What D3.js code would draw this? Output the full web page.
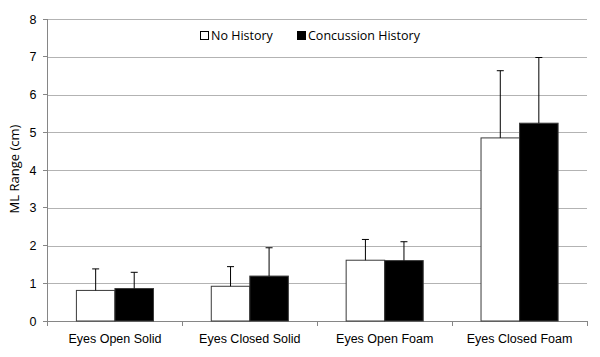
<!DOCTYPE html>
<html>
<head>
<meta charset="utf-8">
<script src="https://cdn.jsdelivr.net/npm/d3@7"></script>
<style>
  body { margin: 0; background: #fff; }
  svg { display: block; font-family: "Open Sans", sans-serif; }
  .tick text { font-size: 12.5px; fill: #000; }
</style>
</head>
<body>
<div id="chart"></div>
<script>
// data
const categories = ["Eyes Open Solid", "Eyes Closed Solid", "Eyes Open Foam", "Eyes Closed Foam"];
const seriesNames = ["No History", "Concussion History"];
const noHistory = [0.81, 0.92, 1.61, 4.85];
const noHistoryErr = [0.57, 0.52, 0.55, 1.78];
const concussion = [0.86, 1.19, 1.60, 5.24];
const concussionErr = [0.43, 0.75, 0.50, 1.74];
const yTicks = [0, 1, 2, 3, 4, 5, 6, 7, 8];

const width = 600, height = 357,
    margin = ({ top: 19, right: 13, bottom: 36, left: 47.5 });

const svg = d3.select("#chart")
    .append("svg")
    .attr("width", width)
    .attr("height", height);

const data = categories.map((c, i) => ({
    cat: c,
    vals: [
        { s: seriesNames[0], v: noHistory[i], e: noHistoryErr[i], fill: "#fff" },
        { s: seriesNames[1], v: concussion[i], e: concussionErr[i], fill: "#000" }
    ]
}));

let x = d3.scaleBand()
    .domain(categories)
    .range([margin.left, width - margin.right])
    .paddingInner(0).paddingOuter(0);

// excel gap width 150% -> bars take 2/3.5 of the band
let x1 = d3.scaleBand()
    .domain(seriesNames)
    .range([0, x.bandwidth()])
    .paddingInner(0)
    .paddingOuter(0.75);

let y = d3.scaleLinear()
    .domain([0, 8])
    .range([height - margin.bottom, margin.top]);

// gridlines + y labels
svg.append("g")
    .attr("transform", `translate(${margin.left},0)`)
    .call(d3.axisLeft(y).tickValues(yTicks).tickSize(-(width - margin.left - margin.right)).tickPadding(11).tickFormat(d3.format("d")))
    .call(g => g.select(".domain").remove())
    .call(g => g.selectAll(".tick line").attr("stroke", "#b3b3b3").attr("shape-rendering", "crispEdges"))
    .call(g => g.selectAll(".tick").filter(d => d === 0).select("line").attr("stroke", "#868686"));

// y axis line
svg.append("line")
    .attr("x1", margin.left).attr("x2", margin.left)
    .attr("y1", y(8)).attr("y2", y(0) + 5)
    .attr("stroke", "#868686")
    .attr("shape-rendering", "crispEdges");

// small ticks on the left axis
svg.append("g")
    .selectAll("line")
    .data(yTicks)
    .join("line")
    .attr("x1", margin.left - 5).attr("x2", margin.left)
    .attr("y1", d => y(d)).attr("y2", d => y(d))
    .attr("stroke", "#868686")
    .attr("shape-rendering", "crispEdges");

// x axis: category dividers and labels
svg.append("g")
    .attr("transform", `translate(0,${y(0)})`)
    .call(d3.axisBottom(x).tickSize(0).tickPadding(13))
    .call(g => g.select(".domain").remove());

svg.append("g")
    .selectAll("line")
    .data(categories)
    .join("line")
    .attr("x1", d => x(d) + x.bandwidth()).attr("x2", d => x(d) + x.bandwidth())
    .attr("y1", y(0)).attr("y2", y(0) + 5)
    .attr("stroke", "#868686")
    .attr("shape-rendering", "crispEdges");

// bars
const groups = svg.append("g")
    .selectAll("g")
    .data(data)
    .join("g")
    .attr("transform", d => `translate(${x(d.cat)},0)`);

groups.selectAll("rect")
    .data(d => d.vals)
    .join("rect")
    .attr("x", d => x1(d.s))
    .attr("y", d => y(d.v))
    .attr("width", x1.bandwidth())
    .attr("height", d => y(0) - y(d.v))
    .attr("fill", d => d.fill)
    .attr("stroke", "#3a3a3a")
    .attr("stroke-width", 1);

// error bars (upper only)
const err = groups.selectAll("g.err")
    .data(d => d.vals)
    .join("g")
    .attr("class", "err");

err.append("line")
    .attr("x1", d => x1(d.s) + x1.bandwidth() / 2)
    .attr("x2", d => x1(d.s) + x1.bandwidth() / 2)
    .attr("y1", d => y(d.v))
    .attr("y2", d => y(d.v + d.e))
    .attr("stroke", "#000");

err.append("line")
    .attr("x1", d => x1(d.s) + x1.bandwidth() / 2 - 3.5)
    .attr("x2", d => x1(d.s) + x1.bandwidth() / 2 + 3.5)
    .attr("y1", d => y(d.v + d.e))
    .attr("y2", d => y(d.v + d.e))
    .attr("stroke", "#000");

// y label
svg.append("text")
    .attr("transform", `translate(19,${(y(0) + y(8)) / 2 - 1}) rotate(-90)`)
    .attr("text-anchor", "middle")
    .attr("font-size", "13px")
    .text("ML Range (cm)");

// legend
const legendX = [200, 297];
const legend = svg.append("g")
    .selectAll("g")
    .data(seriesNames)
    .join("g")
    .attr("transform", (d, i) => `translate(${legendX[i]},36)`);

legend.append("rect")
    .attr("x", 0.5).attr("y", -4.5)
    .attr("width", 8).attr("height", 8)
    .attr("fill", (d, i) => i === 0 ? "#fff" : "#000")
    .attr("stroke", "#000");

legend.append("text")
    .attr("x", 11)
    .attr("dy", "0.35em")
    .attr("font-size", "12.5px")
    .text(d => d);
</script>
</body>
</html>
